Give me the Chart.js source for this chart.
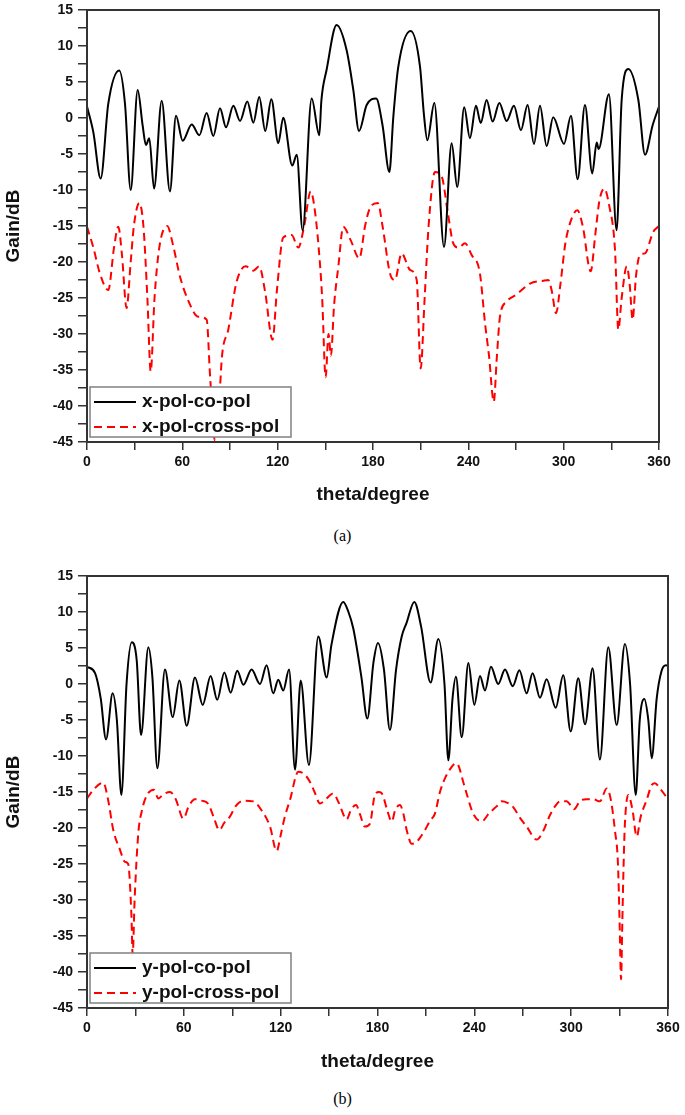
<!DOCTYPE html>
<html lang="en">

<head>
   <meta charset="UTF-8">
   <title>Gain patterns</title>
   <style>
      body { margin: 0; background: #fff; }
      #wrap { position: relative; width: 685px; height: 1115px; }
      canvas { position: absolute; left: 0; }
      .cap { position: absolute; left: 0; width: 685px; text-align: center;
             font-family: "Liberation Serif", "DejaVu Serif", serif; font-size: 16px; }
   </style>
</head>

<body>
   <script src="https://cdn.jsdelivr.net/npm/chart.js"></script>
   <div id="wrap">
      <canvas id="chartA" width="685" height="520" style="top:0px"></canvas>
      <div class="cap" style="top:527px">(a)</div>
      <canvas id="chartB" width="685" height="527" style="top:560px"></canvas>
      <div class="cap" style="top:1090px">(b)</div>
   </div>
   <script>
      // (a) x-polarised feed
      const thetaCoA = [0, 4, 8.6, 13.4, 20.3, 23.9, 27.5, 31.9, 35, 37.1, 39.2, 42.2, 47, 52.2, 56, 60.2, 65.9, 70.7,
         75.3, 79.5, 83.7, 87.5, 92.1, 96.3, 100.9, 104.7, 108.4, 112.2, 116, 120.4, 123.5, 129.2, 132, 135.7, 141.4,
         146.2, 147.5, 150.8, 157.1, 163.4, 167.6, 171.2, 176, 182, 186, 190.3, 192.8, 195.9, 203.7, 209.6, 212, 214.2,
         218.6, 224.7, 229.5, 233, 237.4, 241, 244.8, 247.8, 251.5, 255.3, 259.5, 264.1, 268.7, 273.1, 277.3, 281.3,
         285.1, 289.3, 293.4, 300.2, 304.6, 308.8, 313.4, 318, 320.8, 322, 328.5, 333.3, 336.5, 340.7, 347, 351.2,
         356, 360];
      const gainCoA = [1.6, -2, -8.4, 2, 6.6, 2, -10, 3.9, -1, -3.75, -2.8, -9.8, 2.4, -10.2, 0.3, -3.15, -0.9, -2.4,
         0.7, -2.5, 1.35, -1.3, 1.7, -0.4, 2.3, -0.65, 2.9, -1.8, 2.6, -3.5, 0.05, -6.6, -5.1, -15.6, 2.7,
         -2.4, 2.4, 6.7, 12.9, 9.4, 3.9, -1.8, 1.8, 2.7, -1, -7.5, 0.2, 7.1, 12.1, 7.1, 0.6, -3.1,
         2.1, -17.9, -3.5, -9.6, 1.5, -2.8, 1.7, -0.7, 2.5, -0.5, 2.1, -0.4, 1.7, -1.7, 1.8, -3.6,
         1.7, -3.9, 0.1, -3.6, 0.3, -8.5, 1.8, -7.7, -3.4, -4.3, 3.3, -15.6, 2.5, 6.8, 2.5, -5.1,
         -1, 1.6];

      const thetaCrossA = [0, 4, 8, 13.4, 17, 19.7, 22, 24.9, 27.5, 29.5, 32.9, 35.5, 38, 40.1, 42.5, 45.5, 50.5, 54,
         58.5, 64, 70, 75.3, 77.5, 80.5, 82.5, 85, 88.9, 94.2, 99.9, 104.7, 108.4, 112, 116.8, 119.5, 123.5, 128.8,
         133, 136.6, 140.8, 143.5, 146.6, 148, 150.2, 152, 153.5, 155.5, 158.2, 161.3, 166, 171.4, 175, 178.1, 183,
         186, 190.7, 193.8, 198, 203.3, 207.5, 210, 212.5, 215, 219, 223.2, 227, 230.5, 234, 237.9, 242, 247.3,
         250.5, 253, 256, 258, 259.9, 264.1, 270.4, 278.8, 287.2, 290.3, 292.5, 295.2, 298, 301, 304, 308.6, 312,
         317, 320, 322.5, 325.6, 328.5, 332.3, 334.4, 336.5, 339.7, 341.5, 343.4, 345.5, 348, 351.2, 356.4, 360];
      const gainCrossA = [-15.1, -18, -21.5, -23.9, -18, -15.1, -19, -26.4, -20, -15, -11.8, -15, -25, -35.2, -25, -18, -15, -17.5,
         -22, -25.5, -27.6, -28, -36, -44.8, -42, -33, -29.4, -22.7, -20.6, -21.2, -20.6, -24, -30.8, -24, -16.6, -16.25,
         -18, -15.1, -10.2, -13, -20.2, -25, -36, -30, -33, -26, -20.6, -15.1, -17, -19.5, -15, -12.5, -11.8,
         -15, -21.6, -22.5, -18.8, -21.1, -22.5, -34.8, -25, -15, -7.5, -8.1, -13, -17.4, -18, -17.4, -19, -21.6,
         -28.5, -33, -39.4, -33, -27.6, -25.5, -24.5, -23, -22.6, -22.5, -24, -27.1, -23, -17.5, -14.6, -12.8, -15,
         -21.3, -16, -11.5, -9.8, -12, -18.3, -29.4, -25, -20.6, -23, -28, -22, -19, -18.8, -15.8, -15];

      // (b) y-polarised feed
      const thetaCoB = [0, 5, 8.5, 11.8, 15.9, 18.5, 21.3, 24.5, 27.7, 30.8, 33.5, 38, 40.5, 43.6, 48.3, 53.1, 57.2,
         61.8, 66.9, 71.7, 76.6, 80.7, 85.1, 89, 93.1, 96.9, 102, 107.2, 111.3, 115.4, 118.5, 121.6, 125.2, 128.9,
         132.4, 137.5, 143.3, 148.5, 151.5, 158.8, 162, 165, 170, 173.7, 177.5, 180.3, 184, 187.7, 191.5, 195, 198,
         202.8, 207, 212.9, 217.7, 221.5, 223.9, 226.5, 228.6, 232.2, 236.3, 240, 243.5, 246.6, 250.3, 254.8, 259,
         263.8, 267.9, 272.4, 276.1, 280.7, 284.8, 290.4, 295.1, 299.7, 304.4, 308.6, 313.3, 317.8, 323, 328.2,
         333.3, 336.5, 340, 342.5, 345.3, 347.8, 349.9, 353, 356, 358.7, 360];
      const gainCoB = [2.4, 1.5, -2, -7.7, -1.3, -5, -15.4, 0, 5.8, 3.3, -7.1, 5.1, 1, -11.7, 2, -4.6, 0.5,
         -5.8, 0.9, -2.9, 1.1, -2.2, 1.6, -1.2, 1.85, -0.1, 2, 0, 2.6, -1.3, 0.6, -0.9, 2, -11.9,
         0.5, -11.25, 6.6, 0.9, 5.5, 11.4, 10, 7.7, 1, -4.8, 3, 5.7, 2, -6.4, 2, 6.6, 8.5,
         11.4, 8, 0.2, 6.25, 0, -10.6, -2, 1, -7.4, 2.9, -2.9, 1.1, -0.9, 2.4, 0, 2,
         -0.3, 1.9, -1.3, 1.5, -1.9, 0.65, -3.3, 1.2, -6.6, 0.8, -5.6, 2.2, -10.5, 5.1, -5.7,
         5.55, 0, -15.4, -5, -2.1, -5, -10.3, -2, 1.8, 2.6, 2.5];

      const thetaCrossB = [0, 3.9, 10.1, 13, 16.3, 20.4, 23.5, 25.5, 27.5, 28.3, 29.5, 31.8, 33.9, 37, 41.5, 44.2, 47.5,
         51.4, 55, 59.7, 63, 66.9, 71, 75, 78.5, 82, 85, 88.6, 92, 96.9, 103, 108, 113.4, 117.5, 120, 122.5, 125.8,
         130.9, 134.5, 138.2, 141, 144.4, 147.5, 152.6, 156, 160.9, 163.5, 166.7, 169, 172.2, 175.3, 178.4, 181,
         183.2, 186, 188.8, 191, 193.9, 196, 198.1, 201.2, 204, 206.5, 209.4, 212.5, 215.6, 218.7, 222, 226, 228.5,
         230, 233, 235.2, 239.3, 244.5, 249, 253.8, 256.9, 260.5, 264.1, 268, 272.4, 278.6, 282.5, 286.9, 290,
         293.1, 297.2, 299.5, 301.7, 305.5, 309.5, 313.7, 317.8, 322, 324.5, 327.1, 329, 330, 330.9, 331.7, 332.5,
         333.3, 335.4, 338, 340.6, 343, 346.8, 350, 351.9, 355, 360];
      const gainCrossB = [-15.9, -14.7, -13.7, -16, -20.3, -23, -24.7, -25, -32, -37.6, -30, -20.7, -17.7, -15.5, -14.7, -15.9, -15.3,
         -15, -16, -18.7, -17, -16, -16.2, -16.6, -18.5, -20.3, -19.3, -18.4, -17, -16.2, -16.3, -17.5, -19.8, -23.2, -21, -18.5, -16.1,
         -12.2, -12.5, -13.6, -15, -16.6, -16.1, -15.2, -16.5, -18.8, -17.5, -16.8, -18, -19.8, -19.4, -15.4, -15,
         -15.4, -17.5, -19.1, -17.5, -16.8, -18, -20.3, -22.2, -22, -21.3, -20.3, -19, -18, -15, -13, -11.5, -11,
         -11.25, -13.5, -15.2, -18, -19.1, -18, -17, -16.3, -16.5, -17.1, -18.5, -19.8, -21.6, -20.5, -18.2, -17,
         -16.3, -16.3, -16.8, -17.4, -16.25, -16, -16, -16.3, -14.5, -16, -20.3, -25, -33, -41, -33, -25,
         -19.4, -15.4, -17.5, -21.2, -18.5, -16.1, -14, -13.8, -14.5, -16];

      const legendA = ['x-pol-co-pol', 'x-pol-cross-pol'];
      const legendB = ['y-pol-co-pol', 'y-pol-cross-pol'];
      const xLabelStep = 60;   // labelled every 60, ticks every 30
      const yLabelStep = 5;    // labelled every 5, ticks every 2.5

      const FONT = '"Liberation Sans", Arial, sans-serif';

      function pts(xs, ys) {
         return xs.map((x, i) => ({ x: x, y: ys[i] }));
      }

      // frame round the plot plus the boxed legend in the lower-left corner
      const framePlugin = {
         id: 'frame',
         afterDraw(chart) {
            const { ctx, chartArea: a } = chart;
            ctx.save();
            ctx.strokeStyle = '#333';
            ctx.lineWidth = 2;
            ctx.strokeRect(a.left, a.top, a.right - a.left, a.bottom - a.top);

            const bx = a.left + 3, by = a.bottom - 55;
            ctx.fillStyle = '#fff';
            ctx.fillRect(bx, by, 201, 50);
            ctx.strokeStyle = '#808080';
            ctx.lineWidth = 1.5;
            ctx.strokeRect(bx, by, 201, 50);

            chart.data.datasets.forEach((ds, i) => {
               const y = a.bottom - 40 + i * 25;
               ctx.strokeStyle = ds.borderColor;
               ctx.lineWidth = 2;
               ctx.setLineDash(ds.borderDash || []);
               ctx.beginPath();
               ctx.moveTo(a.left + 7, y);
               ctx.lineTo(a.left + 49, y);
               ctx.stroke();
               ctx.setLineDash([]);
               ctx.fillStyle = '#111';
               ctx.font = 'bold 19px ' + FONT;
               ctx.textBaseline = 'middle';
               ctx.fillText(ds.label, a.left + 55, y);
            });
            ctx.restore();
         }
      };

      function makeChart(id, labels, co, cross, g) {
         return new Chart(document.getElementById(id), {
            type: 'line',
            data: {
               datasets: [
                  {
                     label: labels[0], data: co, borderColor: '#000', borderWidth: 2,
                     pointRadius: 0, cubicInterpolationMode: 'monotone'
                  },
                  {
                     label: labels[1], data: cross, borderColor: '#ff0000', borderWidth: 2,
                     borderDash: [8, 5], pointRadius: 0, cubicInterpolationMode: 'monotone'
                  }
               ]
            },
            options: {
               responsive: false,
               animation: false,
               layout: { padding: { left: 0, top: g.top, right: g.right, bottom: 0 } },
               plugins: { legend: { display: false }, tooltip: { enabled: false } },
               scales: {
                  x: {
                     type: 'linear', min: 0, max: 360,
                     border: { display: true, color: '#333', width: 2 },
                     grid: { drawOnChartArea: false, tickLength: 8, color: '#333', lineWidth: 1.5 },
                     ticks: {
                        stepSize: 30, autoSkip: false, maxRotation: 0, padding: 4, color: '#111',
                        font: { family: FONT, size: 14, weight: 'bold' },
                        callback: v => (v % xLabelStep === 0 ? v : '')
                     },
                     title: {
                        display: true, text: 'theta/degree', color: '#111',
                        font: { family: FONT, size: 19, weight: 'bold' },
                        padding: { top: 0, bottom: g.titlePad }
                     },
                     afterFit(s) { s.height = g.xh; s.paddingLeft = 0; s.paddingRight = 0; }
                  },
                  y: {
                     min: -45, max: 15,
                     border: { display: true, color: '#333', width: 2 },
                     grid: { drawOnChartArea: false, tickLength: 9, color: '#333', lineWidth: 1.5 },
                     ticks: {
                        stepSize: 2.5, autoSkip: false, padding: 5, color: '#111',
                        font: { family: FONT, size: 14, weight: 'bold' },
                        callback: v => (v % yLabelStep === 0 ? v : '')
                     },
                     title: {
                        display: true, text: 'Gain/dB', color: '#111',
                        font: { family: FONT, size: 19, weight: 'bold' },
                        padding: { top: 2, bottom: 0 }
                     },
                     afterFit(s) { s.width = 87; s.paddingTop = 0; s.paddingBottom = 0; }
                  }
               }
            },
            plugins: [framePlugin]
         });
      }

      makeChart('chartA', legendA, pts(thetaCoA, gainCoA), pts(thetaCrossA, gainCrossA),
         { top: 10, right: 26, xh: 78, titlePad: 14 });
      makeChart('chartB', legendB, pts(thetaCoB, gainCoB), pts(thetaCrossB, gainCrossB),
         { top: 16, right: 17, xh: 79, titlePad: 14 });
   </script>
</body>

</html>
